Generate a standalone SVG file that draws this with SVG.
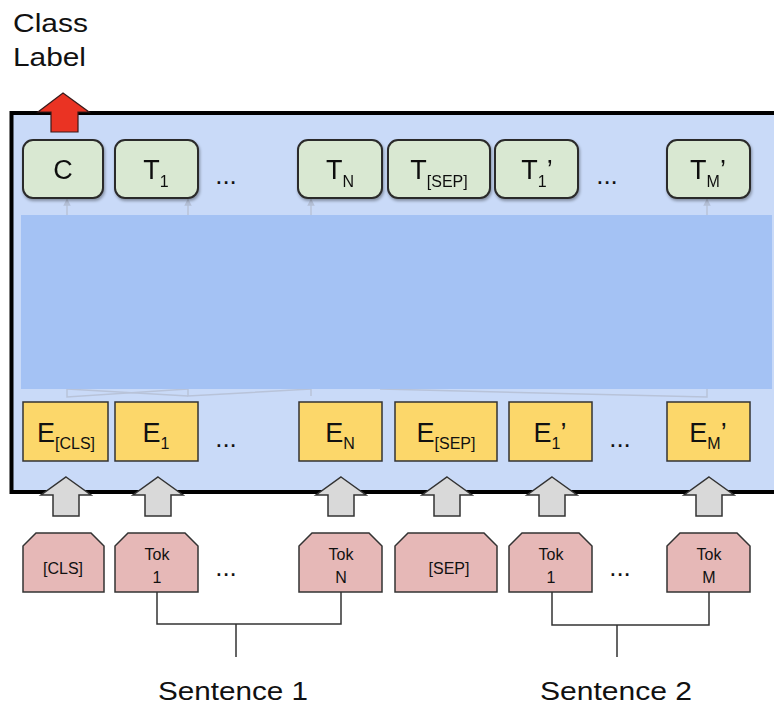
<svg xmlns="http://www.w3.org/2000/svg" width="774" height="705" viewBox="0 0 774 705">
  <defs>
    <filter id="shadow" x="-10%" y="-10%" width="130%" height="140%">
      <feDropShadow dx="1" dy="2" stdDeviation="1.5" flood-color="#000" flood-opacity="0.35"/>
    </filter>
    <marker id="faintHead" viewBox="0 0 8 8" refX="4" refY="4" markerWidth="5" markerHeight="5" orient="auto">
      <path d="M0,0 L8,4 L0,8 Z" fill="#b3bfd6"/>
    </marker>
  </defs>
  <style>
    text { font-family: "Liberation Sans", Arial, sans-serif; fill: #111; }
    .out { fill: #d9e8d2; stroke: #2b2b2b; stroke-width: 2; }
    .emb { fill: #fcd76a; stroke: #333; stroke-width: 1.5; }
    .tok { fill: #e6b8b7; stroke: #333; stroke-width: 1.5; }
    .gray-arrow { fill: #d9d9d9; stroke: #333; stroke-width: 1.5; }
    .big { font-size: 27px; text-anchor: middle; }
    .sub { font-size: 16px; }
    .tk { font-size: 16px; text-anchor: middle; }
    .dots { font-size: 26px; text-anchor: middle; }
    .faint { stroke: #b8c3d9; stroke-width: 1.5; fill: none; }
    .bracket { stroke: #333; stroke-width: 1.5; fill: none; }
  </style>

  <!-- model frame -->
  <rect x="11.5" y="113" width="780" height="379" fill="#c9daf8" stroke="#000" stroke-width="4"/>

  <!-- faint internal connections -->
  <g id="connectors">
    <line class="faint" x1="67" y1="215" x2="67" y2="202" marker-end="url(#faintHead)"/>
    <line class="faint" x1="188" y1="215" x2="188" y2="202" marker-end="url(#faintHead)"/>
    <line class="faint" x1="311" y1="215" x2="311" y2="202" marker-end="url(#faintHead)"/>
    <line class="faint" x1="707" y1="215" x2="707" y2="202" marker-end="url(#faintHead)"/>
    <polyline class="faint" points="67,388 67,397 188,389"/>
    <polyline class="faint" points="188,388 188,396 311,389"/>
    <polyline class="faint" points="67,389 188,396"/>
    <polyline class="faint" points="311,388 311,396"/>
    <polyline class="faint" points="380,389 707,397 707,388"/>
  </g>

  <!-- transformer layers -->
  <rect id="transformer" x="21" y="215" width="751" height="174" fill="#a4c2f4"/>

  <!-- class label output -->
  <g id="class-label">
    <text x="13" y="32" font-size="26" textLength="75" lengthAdjust="spacingAndGlyphs">Class</text>
    <text x="13" y="66" font-size="26" textLength="73" lengthAdjust="spacingAndGlyphs">Label</text>
    <path d="M63,93 L89,112 L78,112 L78,132 L51,132 L51,112 L38,112 Z" fill="#ea3323" stroke="#3a1a1a" stroke-width="1.2"/>
  </g>

  <!-- output row -->
  <g id="out-C" filter="url(#shadow)">
    <rect class="out" x="23" y="140" width="80" height="58" rx="10"/>
    <text class="big" x="63" y="179">C</text>
  </g>
  <g id="out-T1" filter="url(#shadow)">
    <rect class="out" x="115" y="140" width="83" height="58" rx="10"/>
    <text class="big" x="156" y="179">T<tspan class="sub" dy="8">1</tspan></text>
  </g>
  <text class="dots" x="226" y="184">...</text>
  <g id="out-TN" filter="url(#shadow)">
    <rect class="out" x="298" y="140" width="84" height="58" rx="10"/>
    <text class="big" x="340" y="179">T<tspan class="sub" dy="8">N</tspan></text>
  </g>
  <g id="out-TSEP" filter="url(#shadow)">
    <rect class="out" x="388" y="140" width="102" height="58" rx="10"/>
    <text class="big" x="439" y="179">T<tspan class="sub" dy="8">[SEP]</tspan></text>
  </g>
  <g id="out-T1p" filter="url(#shadow)">
    <rect class="out" x="495" y="140" width="83" height="58" rx="10"/>
    <text class="big" x="537" y="179">T<tspan class="sub" dy="8">1</tspan><tspan dy="-8">’</tspan></text>
  </g>
  <text class="dots" x="607" y="184">...</text>
  <g id="out-TMp" filter="url(#shadow)">
    <rect class="out" x="667" y="140" width="83" height="58" rx="10"/>
    <text class="big" x="708" y="179">T<tspan class="sub" dy="8">M</tspan><tspan dy="-8">’</tspan></text>
  </g>

  <!-- embedding row -->
  <g id="emb-CLS">
    <rect class="emb" x="23" y="402" width="85" height="59"/>
    <text class="big" x="66" y="442">E<tspan class="sub" dy="7">[CLS]</tspan></text>
  </g>
  <g id="emb-E1">
    <rect class="emb" x="115" y="402" width="83" height="59"/>
    <text class="big" x="156" y="442">E<tspan class="sub" dy="7">1</tspan></text>
  </g>
  <text class="dots" x="226" y="447">...</text>
  <g id="emb-EN">
    <rect class="emb" x="299" y="402" width="83" height="59"/>
    <text class="big" x="340" y="442">E<tspan class="sub" dy="7">N</tspan></text>
  </g>
  <g id="emb-SEP">
    <rect class="emb" x="395" y="402" width="102" height="59"/>
    <text class="big" x="446" y="442">E<tspan class="sub" dy="7">[SEP]</tspan></text>
  </g>
  <g id="emb-E1p">
    <rect class="emb" x="509" y="402" width="83" height="59"/>
    <text class="big" x="550" y="442">E<tspan class="sub" dy="7">1</tspan><tspan dy="-7">’</tspan></text>
  </g>
  <text class="dots" x="620" y="447">...</text>
  <g id="emb-EMp">
    <rect class="emb" x="667" y="402" width="83" height="59"/>
    <text class="big" x="708" y="442">E<tspan class="sub" dy="7">M</tspan><tspan dy="-7">’</tspan></text>
  </g>

  <!-- input arrows -->
  <g id="input-arrows">
    <path class="gray-arrow" d="M66,477 L91,495 L79,495 L79,516 L53,516 L53,495 L41,495 Z"/>
    <path class="gray-arrow" d="M158,477 L183,495 L171,495 L171,516 L145,516 L145,495 L133,495 Z"/>
    <path class="gray-arrow" d="M341,477 L366,495 L354,495 L354,516 L328,516 L328,495 L316,495 Z"/>
    <path class="gray-arrow" d="M447,477 L472,495 L460,495 L460,516 L434,516 L434,495 L422,495 Z"/>
    <path class="gray-arrow" d="M552,477 L577,495 L565,495 L565,516 L539,516 L539,495 L527,495 Z"/>
    <path class="gray-arrow" d="M709,477 L734,495 L722,495 L722,516 L696,516 L696,495 L684,495 Z"/>
  </g>

  <!-- input tokens -->
  <g id="tok-CLS">
    <path class="tok" d="M23,592 V546 L36,533 H91 L104,546 V592 Z"/>
    <text class="tk" x="63" y="574">[CLS]</text>
  </g>
  <g id="tok-1">
    <path class="tok" d="M115,592 V546 L128,533 H185 L198,546 V592 Z"/>
    <text class="tk" x="157" y="560">Tok</text>
    <text class="tk" x="157" y="583">1</text>
  </g>
  <text class="dots" x="226" y="576">...</text>
  <g id="tok-N">
    <path class="tok" d="M299,592 V546 L312,533 H369 L382,546 V592 Z"/>
    <text class="tk" x="341" y="560">Tok</text>
    <text class="tk" x="341" y="583">N</text>
  </g>
  <g id="tok-SEP">
    <path class="tok" d="M395,592 V546 L408,533 H484 L497,546 V592 Z"/>
    <text class="tk" x="449" y="574">[SEP]</text>
  </g>
  <g id="tok-1p">
    <path class="tok" d="M509,592 V546 L522,533 H579 L592,546 V592 Z"/>
    <text class="tk" x="551" y="560">Tok</text>
    <text class="tk" x="551" y="583">1</text>
  </g>
  <text class="dots" x="620" y="576">...</text>
  <g id="tok-Mp">
    <path class="tok" d="M667,592 V546 L680,533 H737 L750,546 V592 Z"/>
    <text class="tk" x="709" y="560">Tok</text>
    <text class="tk" x="709" y="583">M</text>
  </g>

  <!-- sentence brackets -->
  <g id="sentence-1">
    <path class="bracket" d="M157,592 V624 H341 V592 M236,624 V657"/>
    <text x="158" y="700" font-size="26" textLength="150" lengthAdjust="spacingAndGlyphs">Sentence 1</text>
  </g>
  <g id="sentence-2">
    <path class="bracket" d="M552,592 V625 H709 V592 M617,625 V657"/>
    <text x="540" y="700" font-size="26" textLength="152" lengthAdjust="spacingAndGlyphs">Sentence 2</text>
  </g>
</svg>
